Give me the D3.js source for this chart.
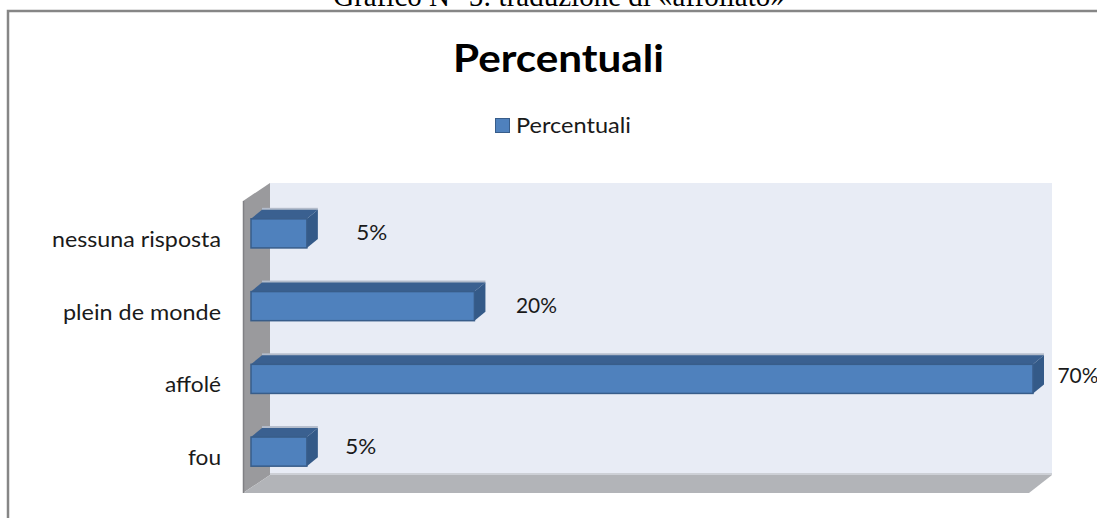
<!DOCTYPE html>
<html><head><meta charset="utf-8">
<style>html,body{margin:0;padding:0;background:#fff;overflow:hidden}svg{display:block}</style>
<script src="https://cdn.jsdelivr.net/npm/d3@7"></script></head>
<body><script>
const categories = ["nessuna risposta","plein de monde","affolé","fou"];
const values = [5,20,70,5];
const valueLabels = ["5%","20%","70%","5%"];
const seriesName = "Percentuali";
const chartTitle = "Percentuali";
const caption = "Grafico N° 5: traduzione di «affollato»";

const W=1097,H=518;
// hand-placed data label offsets relative to each bar's end and bottom
const labelDx=[65,62,45,54], labelDy=[-8,-8,-10,-12];
const svg=d3.select("body").append("svg").attr("width",W).attr("height",H);
const x=d3.scaleLinear().domain([0,70]).range([251,1033]);
const y=d3.scaleBand().domain(categories).range([197,488]).paddingInner(0.6).paddingOuter(0.3);
const dx=11,dy=9;
const poly=(pts,fill)=>svg.append("polygon").attr("points",pts.map(p=>p.join(",")).join(" ")).attr("fill",fill);
const sans="Lato,'Open Sans',sans-serif";
const label=(tx,ty,s,anchor,len)=>{
  const t=svg.append("text").attr("x",tx).attr("y",ty).attr("text-anchor",anchor).attr("font-family",sans).attr("font-size",22).attr("fill","#1a1a1a").text(s);
  if(len) t.attr("textLength",len).attr("lengthAdjust","spacingAndGlyphs");
  return t;
};

svg.append("text").attr("x",559).attr("y",6).attr("text-anchor","middle").attr("font-family","'Liberation Serif',serif").attr("font-size",29).text(caption);
svg.append("rect").attr("x",8).attr("y",11).attr("width",1120).attr("height",540).attr("fill","#fff").attr("stroke","#868686").attr("stroke-width",2.5);
svg.append("text").attr("x",558.5).attr("y",72).attr("text-anchor","middle").attr("font-family",sans).attr("font-weight",700).attr("font-size",38).attr("textLength",211).attr("lengthAdjust","spacingAndGlyphs").text(chartTitle);
svg.append("rect").attr("x",495.5).attr("y",118.5).attr("width",14).attr("height",14).attr("fill","#4f81bd").attr("stroke","#385d8a");
label(516,133,seriesName,"start",115);

svg.append("rect").attr("x",270).attr("y",183).attr("width",782).attr("height",292).attr("fill","#e8ecf5");
poly([[243,201],[270,183],[270,475],[243,493]],"#9a9a9d");
poly([[270,473],[1052,473],[1052,475],[270,475]],"#cdd0d6");
poly([[243,493],[270,475],[1052,475],[1029,493]],"#b2b4b8");
svg.append("line").attr("x1",243.5).attr("x2",243.5).attr("y1",201).attr("y2",493).attr("stroke","#808084").attr("stroke-width",1.5);

const labelLens=[169,158,56,33];
categories.forEach((c,i)=>{
  const x0=x(0),x1=x(values[i]),t=y(c),b=t+y.bandwidth();
  svg.append("rect").attr("x",x0+dx).attr("y",t-dy-2).attr("width",x1-x0).attr("height",3).attr("fill","#b3bccb");
  poly([[x0,t],[x0+dx,t-dy],[x1+dx,t-dy],[x1,t]],"#3a6090");
  poly([[x1,t],[x1+dx,t-dy],[x1+dx,b-dy],[x1,b]],"#345a88");
  svg.append("rect").attr("x",x0).attr("y",t).attr("width",x1-x0).attr("height",b-t).attr("fill","#4f81bd").attr("stroke","#385d8a").attr("stroke-width",1.5);
  label(221,b-1,c,"end",labelLens[i]);
  label(x1+labelDx[i],b+labelDy[i],valueLabels[i],"middle",valueLabels[i].length===2?31:41);
});
</script></body></html>
